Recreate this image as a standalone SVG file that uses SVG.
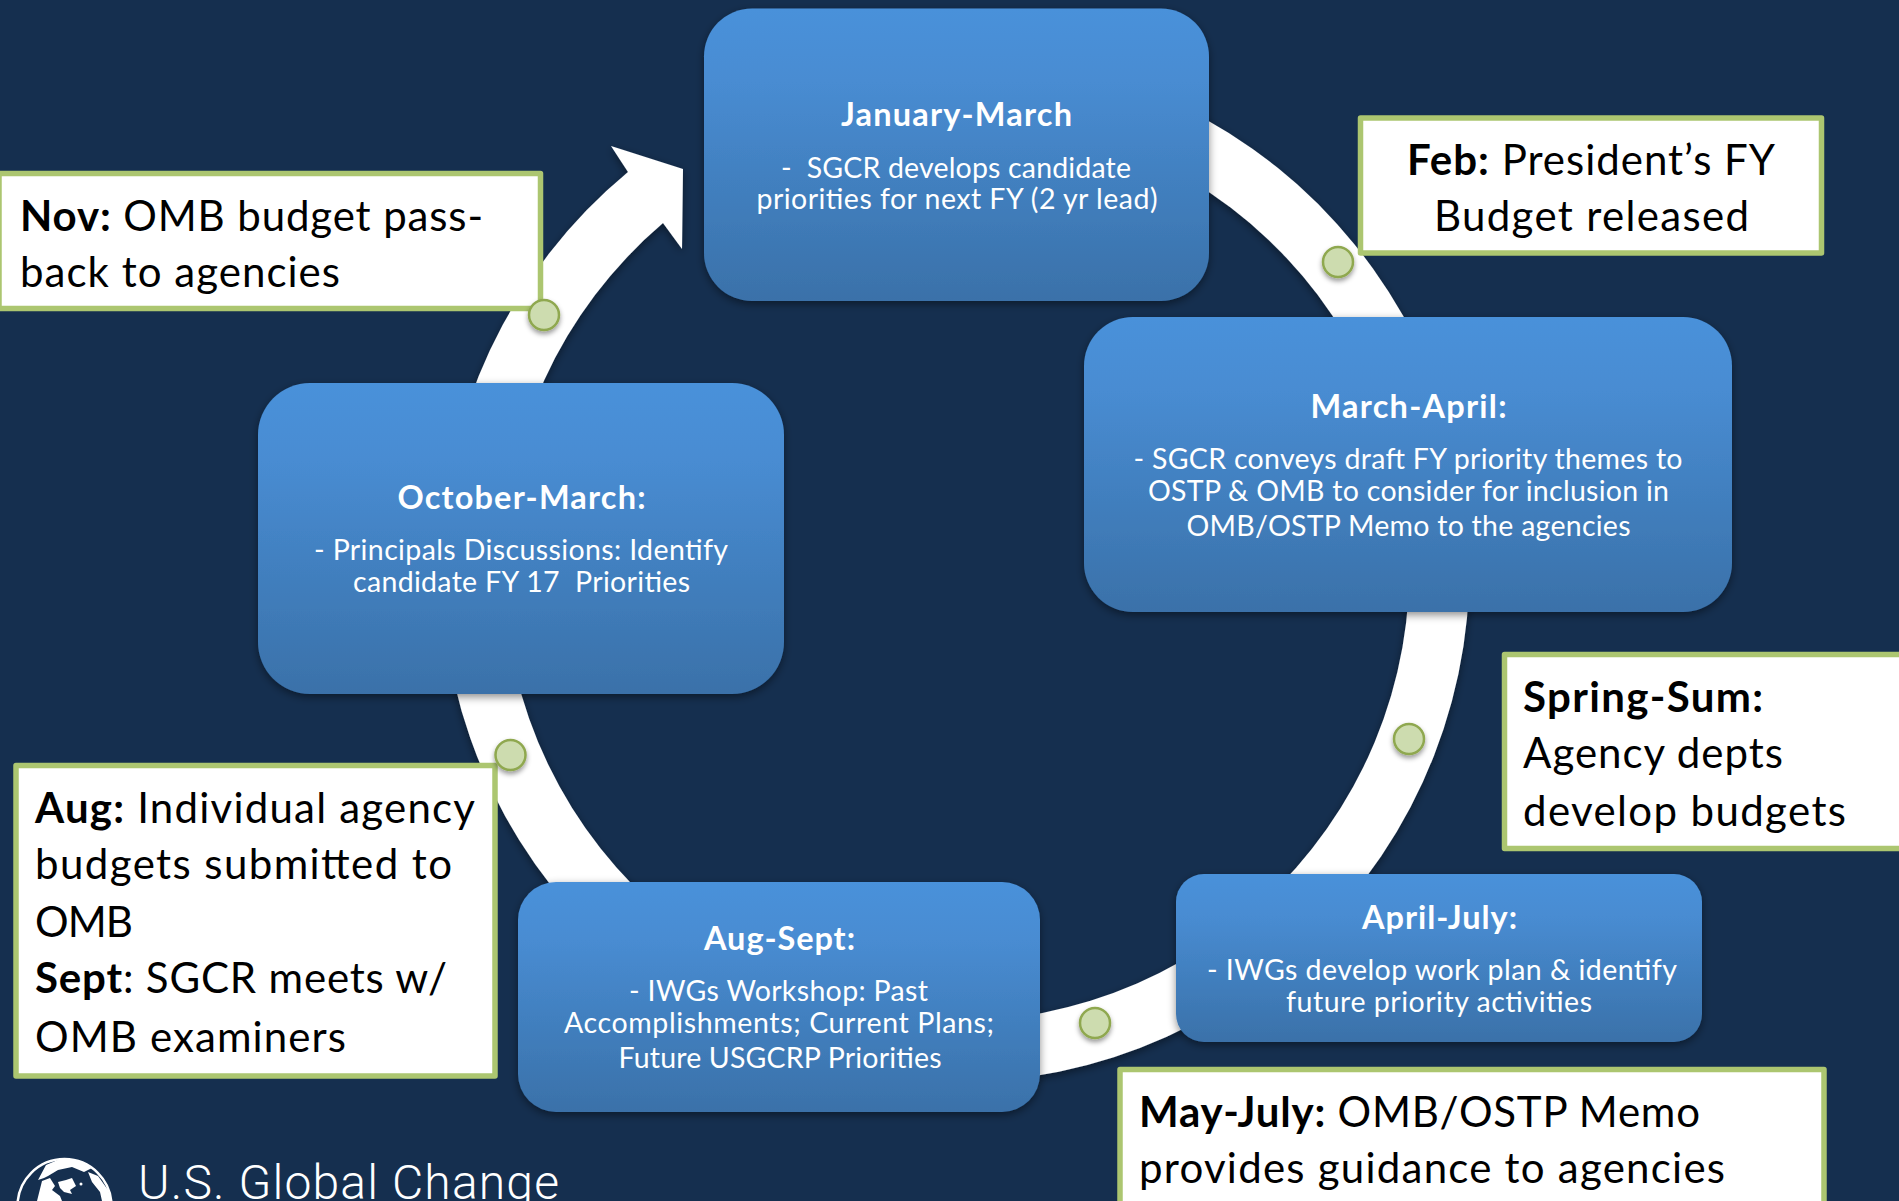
<svg xmlns="http://www.w3.org/2000/svg" width="1899" height="1201" viewBox="0 0 1899 1201">
<defs>
<linearGradient id="blue" x1="0" y1="0" x2="0" y2="1"><stop offset="0" stop-color="#4a91da"/><stop offset="0.25" stop-color="#488cd2"/><stop offset="1" stop-color="#3a71a9"/></linearGradient>
<filter id="sh" x="-10%" y="-10%" width="120%" height="125%"><feDropShadow dx="0" dy="3" stdDeviation="4" flood-color="#000" flood-opacity="0.45"/></filter>
<filter id="ds" x="-50%" y="-50%" width="200%" height="200%"><feDropShadow dx="0" dy="3" stdDeviation="2.5" flood-color="#000" flood-opacity="0.4"/></filter>
<clipPath id="globeclip"><circle cx="64.5" cy="1206" r="47"/></clipPath>
<style>
.box{fill:url(#blue);filter:url(#sh)}
.ct{fill:#fff;stroke:#acc670;stroke-width:5.5;stroke-linejoin:round}
.dot{fill:#cddcaf;stroke:#8fa84f;stroke-width:2.5;filter:url(#ds)}
.t{font-family:"Lato","Carlito","Liberation Sans",sans-serif;fill:#fff;text-anchor:middle}
.h{font-size:32.5px;font-weight:700}
.b{font-size:28.5px}
.c{font-family:"Lato","Carlito","Liberation Sans",sans-serif;font-size:42px;fill:#000}
.c tspan.s{font-weight:700}
</style>
</defs>
<rect width="1899" height="1201" fill="#152f4f"/>
<g id="connectors">
<path d="M1100 75 A514 514 0 1 1 628 172 L611 146 L683 169 L682 249 L663 223 A453 453 0 1 0 1100 138.5 Z" fill="#fff" filter="url(#sh)"/>
</g>
<g id="jan"><rect class="box" x="704" y="8.5" width="505" height="292.5" rx="48"/>
<text class="t h" x="956.5" y="126" textLength="231">January-March</text>
<text class="t b" x="956" y="177.5" textLength="350" xml:space="preserve">-  SGCR develops candidate</text>
<text class="t b" x="957" y="209" textLength="401">priorities for next FY (2 yr lead)</text></g>
<g id="mar"><rect class="box" x="1084" y="317" width="648" height="295" rx="49"/>
<text class="t h" x="1408.5" y="418" textLength="196">March-April:</text>
<text class="t b" x="1408" y="469" textLength="549">- SGCR conveys draft FY priority themes to</text>
<text class="t b" x="1408.5" y="501" textLength="521">OSTP &amp; OMB to consider for inclusion in</text>
<text class="t b" x="1408.5" y="536" textLength="444">OMB/OSTP Memo to the agencies</text></g>
<g id="apr"><rect class="box" x="1176" y="874" width="526" height="168" rx="28"/>
<text class="t h" x="1439.5" y="929" textLength="155">April-July:</text>
<text class="t b" x="1442" y="980" textLength="470">- IWGs develop work plan &amp; identify</text>
<text class="t b" x="1439" y="1012" textLength="306">future priority activities</text></g>
<g id="aug"><rect class="box" x="518" y="882" width="522" height="230" rx="38"/>
<text class="t h" x="779.5" y="950" textLength="151">Aug-Sept:</text>
<text class="t b" x="778.5" y="1001" textLength="299">- IWGs Workshop: Past</text>
<text class="t b" x="779" y="1033" textLength="430">Accomplishments; Current Plans;</text>
<text class="t b" x="780" y="1068" textLength="323">Future USGCRP Priorities</text></g>
<g id="oct"><rect class="box" x="258" y="383" width="526" height="311" rx="52"/>
<text class="t h" x="521.5" y="509" textLength="248">October-March:</text>
<text class="t b" x="521" y="560" textLength="414">- Principals Discussions: Identify</text>
<text class="t b" x="521.5" y="592" textLength="337" xml:space="preserve">candidate FY 17  Priorities</text></g>
<g id="c-feb"><rect class="ct" x="1360.5" y="118" width="461" height="135"/>
<text class="c" x="1407" y="175" textLength="368"><tspan class="s">Feb:</tspan> President’s FY</text>
<text class="c" x="1434" y="231" textLength="315">Budget released</text></g>
<g id="c-spring"><rect class="ct" x="1504.5" y="654.5" width="410" height="194"/>
<text class="c" x="1523" y="712" textLength="240"><tspan class="s">Spring-Sum:</tspan></text>
<text class="c" x="1523" y="768" textLength="260">Agency depts</text>
<text class="c" x="1523" y="826" textLength="323">develop budgets</text></g>
<g id="c-may"><rect class="ct" x="1120" y="1069.5" width="704" height="160"/>
<text class="c" x="1139" y="1127" textLength="561"><tspan class="s">May-July:</tspan> OMB/OSTP Memo</text>
<text class="c" x="1139" y="1183" textLength="586">provides guidance to agencies</text></g>
<g id="c-aug"><rect class="ct" x="16" y="765.5" width="479" height="310.5"/>
<text class="c" x="35" y="823" textLength="440"><tspan class="s">Aug:</tspan> Individual agency</text>
<text class="c" x="35" y="879" textLength="417">budgets submitted to</text>
<text class="c" x="35" y="937" textLength="98">OMB</text>
<text class="c" x="35" y="993" textLength="412"><tspan class="s">Sept</tspan>: SGCR meets w/</text>
<text class="c" x="35" y="1052" textLength="311">OMB examiners</text></g>
<g id="c-nov"><rect class="ct" x="-1" y="173.5" width="541.5" height="135"/>
<text class="c" x="20" y="231" textLength="463"><tspan class="s">Nov:</tspan> OMB budget pass-</text>
<text class="c" x="20" y="287" textLength="320">back to agencies</text></g>
<g id="dots">
<circle class="dot" cx="1338" cy="262" r="15"/>
<circle class="dot" cx="1409" cy="739" r="15"/>
<circle class="dot" cx="1095" cy="1023" r="15"/>
<circle class="dot" cx="510.5" cy="755" r="15"/>
<circle class="dot" cx="544" cy="315" r="15"/>
</g>
<g id="logo">
<circle cx="64.5" cy="1206" r="47" fill="none" stroke="#fff" stroke-width="2.5"/>
<g clip-path="url(#globeclip)" fill="#fff">
<path d="M38 1180 L46 1165 L60 1159 L80 1159 L92 1168 L84 1172 L72 1167 L58 1170 L48 1176 L44 1178 Z"/>
<path d="M37 1201 L42 1181 L50 1178 L55 1186 L52 1190 L60 1196 L62 1201 Z"/>
<path d="M58 1182 L66 1180 L72 1178 L76 1186 L70 1190 L72 1194 L64 1192 L60 1188 Z"/>
<path d="M88 1172 L98 1176 L108 1190 L112 1201 L102 1201 L100 1192 L92 1182 Z"/>
<circle cx="81" cy="1184" r="1.5"/>
</g>
<text x="138" y="1199" font-family="Roboto,sans-serif" font-weight="300" font-size="48" fill="#fff" textLength="421">U.S. Global Change</text>
</g>
</svg>
